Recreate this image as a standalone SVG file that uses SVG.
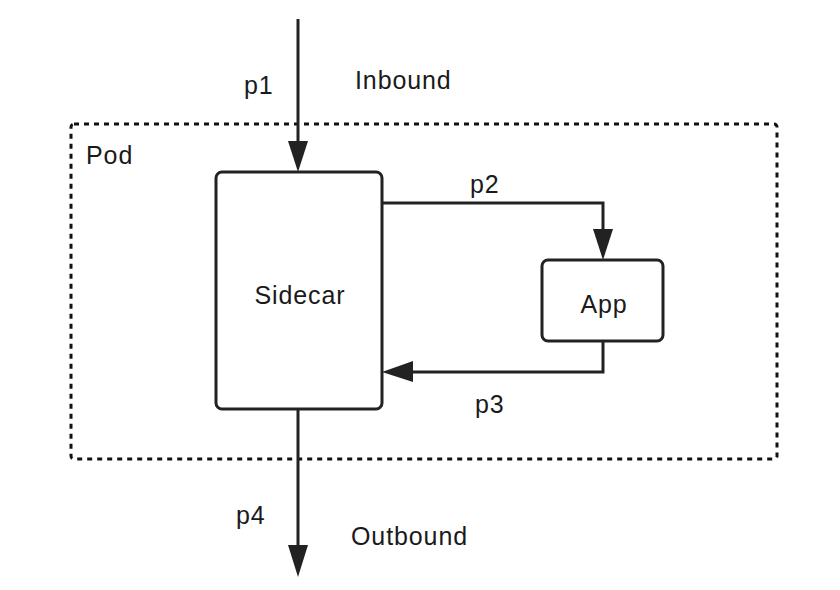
<svg xmlns="http://www.w3.org/2000/svg" width="840" height="590" viewBox="0 0 840 590">
<defs>
<style>
.box{fill:#fff;stroke:#222;stroke-width:3}
.pod{fill:none;stroke:#111;stroke-width:3;stroke-dasharray:5 5}
.line{fill:none;stroke:#222;stroke-width:3}
.head{fill:#222}
text{font-family:"Liberation Sans",Arial,sans-serif;font-size:25px;fill:#1a1a1a;letter-spacing:0.9px}
</style>
</defs>
<rect width="840" height="590" fill="#fff"/>
<g id="pod">
<rect class="pod" x="71" y="124" width="706" height="335" rx="3"/>
<text x="86" y="164">Pod</text>
</g>
<g id="connectors">
<line class="line" x1="298" y1="19" x2="298" y2="145"/>
<polygon class="head" points="288,141 308,141 298,172"/>
<polyline class="line" points="382,203 603,203 603,232"/>
<polygon class="head" points="593,229 613,229 603,260"/>
<polyline class="line" points="603,341 603,372 410,372"/>
<polygon class="head" points="413,361 413,382 382,372"/>
<line class="line" x1="298" y1="409" x2="298" y2="548"/>
<polygon class="head" points="288,545 308,545 298,577"/>
</g>
<g id="labels">
<text x="244" y="94">p1</text>
<text x="355" y="89">Inbound</text>
<text x="470" y="193">p2</text>
<text x="475" y="413">p3</text>
<text x="236" y="524">p4</text>
<text x="351" y="545">Outbound</text>
</g>
<g id="sidecar">
<rect class="box" x="216" y="172" width="166" height="237" rx="6"/>
<text x="300" y="304" text-anchor="middle">Sidecar</text>
</g>
<g id="app">
<rect class="box" x="542" y="260" width="121" height="81" rx="6"/>
<text x="604" y="313" text-anchor="middle">App</text>
</g>
</svg>
